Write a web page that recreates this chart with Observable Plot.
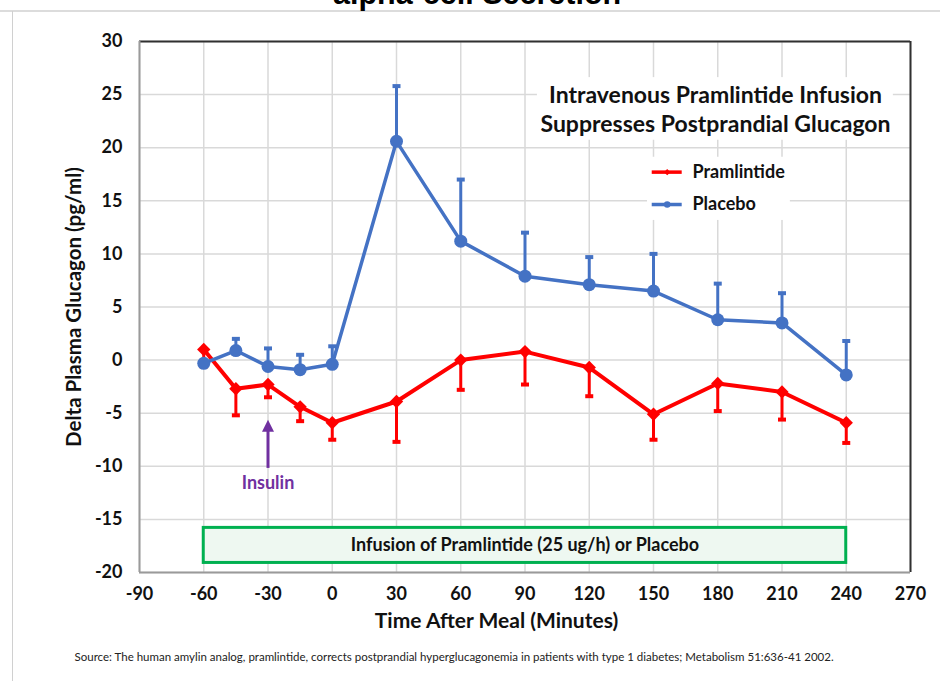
<!DOCTYPE html>
<html>
<head>
<meta charset="utf-8">
<script src="https://cdn.jsdelivr.net/npm/d3@7"></script>
<script src="https://cdn.jsdelivr.net/npm/@observablehq/plot@0.6"></script>
<style>
  html, body { margin: 0; padding: 0; background: #fff; }
  #wrap { position: relative; width: 940px; height: 681px; overflow: hidden; font-family: Lato, "Open Sans", sans-serif; }
  #toptitle { position: absolute; left: 333px; top: -22px; font: bold 30.5px "Liberation Sans", Arial, sans-serif; line-height: 1; white-space: nowrap; color: #000; }
  #topline { position: absolute; left: 0; top: 10px; width: 940px; height: 2px; background: #dcdcdc; }
  #leftline { position: absolute; left: 12px; top: 11px; width: 1px; height: 670px; background: #d0d0d0; }
  #chart { position: absolute; left: 0; top: 0; }
</style>
</head>
<body>
<div id="wrap">
  <div id="chart"></div>
  <div id="topline"></div>
  <div id="leftline"></div>
  <div id="toptitle">alpha-cell Secretion</div>
</div>
<script>
// ---- data ----
const times      = [-60, -45, -30, -15, 0, 30, 60, 90, 120, 150, 180, 210, 240];
const pramlintide = [1.0, -2.7, -2.3, -4.4, -5.9, -3.9, 0.0, 0.8, -0.7, -5.1, -2.2, -3.0, -5.9];
const pramLow     = [-0.6, -5.2, -3.5, -5.75, -7.5, -7.7, -2.8, -2.3, -3.4, -7.5, -4.8, -5.6, -7.8];
const placebo     = [-0.3, 0.9, -0.6, -0.9, -0.4, 20.6, 11.2, 7.9, 7.1, 6.5, 3.8, 3.5, -1.4];
const placHigh    = [null, 2.0, 1.1, 0.5, 1.3, 25.8, 17.0, 12.0, 9.7, 10.0, 7.2, 6.3, 1.8];
const xTicks = [-90, -60, -30, 0, 30, 60, 90, 120, 150, 180, 210, 240, 270];
const yTicks = [-20, -15, -10, -5, 0, 5, 10, 15, 20, 25, 30];

const infusion = {start: -60, end: 240, low: -19.1, high: -15.8, label: "Infusion of Pramlintide (25 ug/h) or Placebo"};
const insulin = {x: -30, from: -10.2, to: -5.7, label: "Insulin"};
const titleLines = ["Intravenous Pramlintide Infusion", "Suppresses Postprandial Glucagon"];
const seriesNames = ["Pramlintide", "Placebo"];
const captionText = "Source: The human amylin analog, pramlintide, corrects postprandial hyperglucagonemia in patients with type 1 diabetes; Metabolism 51:636-41 2002.";

// ---- build tables ----
const pramData = times.map((t, i) => ({t, v: pramlintide[i], lo: pramLow[i]}));
const placData = times.map((t, i) => ({t, v: placebo[i], hi: placHigh[i]}));
const placErr = placData.filter(d => d.hi != null);

const RED = "#ff0000", BLUE = "#4472c4", PURPLE = "#7030a0", GREEN = "#00b050";
const GRID = "#d9d9d9";

const capSymbol = {draw(ctx) { ctx.rect(-4, -2, 8, 4); }};
const arrowHead = {draw(ctx) { ctx.moveTo(0, -1); ctx.lineTo(6, 11); ctx.lineTo(-6, 11); ctx.closePath(); }};

const legend = [
  {name: seriesNames[0], y: 17.7, color: RED, symbol: "diamond2", r: 4.4},
  {name: seriesNames[1], y: 14.65, color: BLUE, symbol: "circle", r: 5.5}
];
const legendLineX = [149.4, 163.4], legendMarkX = 156.4, legendTextX = 168.2;

const chart = Plot.plot({
  width: 940,
  height: 681,
  marginLeft: 139,
  marginRight: 30,
  marginTop: 41,
  marginBottom: 109,
  style: {fontFamily: "Lato, 'Open Sans', sans-serif", background: "transparent", color: "#000"},
  x: {domain: [-90, 270], axis: null},
  y: {domain: [-20, 30], axis: null},
  marks: [
    Plot.gridX(xTicks, {stroke: GRID, strokeOpacity: 1, strokeWidth: 1.5}),
    Plot.gridY(yTicks, {stroke: GRID, strokeOpacity: 1, strokeWidth: 1.5}),
    // white boxes behind title and legend
    Plot.rect([0], {x1: 95.8, x2: 262, y1: 20.7, y2: 26.6, fill: "white"}),
    Plot.rect([0], {x1: 147.2, x2: 213.9, y1: 13.15, y2: 19.1, fill: "white"}),
    // frame
    Plot.ruleY([30], {stroke: "#303030", strokeWidth: 2}),
    Plot.ruleX([270], {stroke: "#303030", strokeWidth: 2}),
    Plot.ruleX([-90], {stroke: "#9a9a9a", strokeWidth: 2}),
    Plot.ruleY([-20], {stroke: "#9a9a9a", strokeWidth: 2}),
    // infusion box
    Plot.rect([infusion], {x1: "start", x2: "end", y1: "low", y2: "high", fill: "#eef8f1", stroke: GREEN, strokeWidth: 3}),
    Plot.text([infusion], {x: d => (d.start + d.end) / 2, y: d => (d.low + d.high) / 2, text: "label", fontSize: 18, fontWeight: "bold", fill: "#111"}),
    // insulin arrow
    Plot.ruleX([insulin], {x: "x", y1: "from", y2: d => d.to - 0.6, stroke: PURPLE, strokeWidth: 3}),
    Plot.dot([insulin], {x: "x", y: "to", symbol: arrowHead, fill: PURPLE, stroke: null}),
    Plot.text([insulin], {x: "x", y: d => d.from - 1.35, text: "label", fill: PURPLE, fontSize: 18, fontWeight: "bold"}),
    // pramlintide
    Plot.ruleX(pramData, {x: "t", y1: "v", y2: "lo", stroke: RED, strokeWidth: 3}),
    Plot.dot(pramData, {x: "t", y: "lo", symbol: capSymbol, fill: RED, stroke: null}),
    Plot.line(pramData, {x: "t", y: "v", stroke: RED, strokeWidth: 4}),
    Plot.dot(pramData, {x: "t", y: "v", symbol: "diamond2", r: 6, fill: RED, stroke: null}),
    // placebo
    Plot.ruleX(placErr, {x: "t", y1: "v", y2: "hi", stroke: BLUE, strokeWidth: 3}),
    Plot.dot(placErr, {x: "t", y: "hi", symbol: capSymbol, fill: BLUE, stroke: null}),
    Plot.line(placData, {x: "t", y: "v", stroke: BLUE, strokeWidth: 3.5}),
    Plot.dot(placData, {x: "t", y: "v", r: 6.5, fill: BLUE, stroke: null}),
    // title inside plot
    Plot.text([titleLines[0]], {frameAnchor: "top-left", dx: 576, dy: 54, lineAnchor: "middle", textAnchor: "middle", fontSize: 23, fontWeight: "bold", fill: "#111"}),
    Plot.text([titleLines[1]], {frameAnchor: "top-left", dx: 576, dy: 83, lineAnchor: "middle", textAnchor: "middle", fontSize: 23, fontWeight: "bold", fill: "#111"}),
    // legend
    Plot.ruleY(legend, {y: "y", x1: legendLineX[0], x2: legendLineX[1], stroke: "color", strokeWidth: 3.5}),
    Plot.dot(legend, {x: legendMarkX, y: "y", symbol: "symbol", r: "r", fill: "color", stroke: null}),
    Plot.text(legend, {x: legendTextX, y: "y", text: "name", textAnchor: "start", fontSize: 18, fontWeight: "bold", fill: "#111"}),
    // tick labels
    Plot.text(xTicks, {x: d => d, text: d => String(d), frameAnchor: "bottom", dy: 27, fontSize: 18, fontWeight: "bold", fill: "#111"}),
    Plot.text(yTicks, {y: d => d, text: d => String(d), frameAnchor: "left", dx: -17, textAnchor: "end", fontSize: 18, fontWeight: "bold", fill: "#111"}),
    // axis titles
    Plot.text(["Time After Meal (Minutes)"], {frameAnchor: "bottom-left", dx: 357, dy: 55, textAnchor: "middle", fontSize: 21, fontWeight: "bold", fill: "#111"}),
    Plot.text(["Delta Plasma Glucagon (pg/ml)"], {frameAnchor: "left", dx: -65, rotate: -90, textAnchor: "middle", fontSize: 20.5, fontWeight: "bold", fill: "#111"}),
    // caption
    Plot.text([captionText], {frameAnchor: "bottom-left", dx: -65, dy: 88, textAnchor: "start", fontSize: 11.5, fill: "#222"})
  ]
});
document.getElementById("chart").appendChild(chart);
</script>
</body>
</html>
